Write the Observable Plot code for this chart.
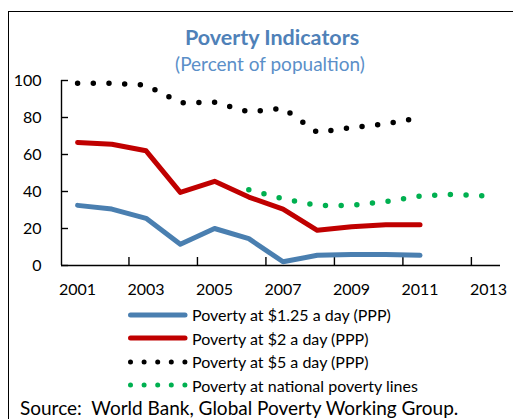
<!DOCTYPE html>
<html>
<head>
<meta charset="utf-8">
<script src="https://cdn.jsdelivr.net/npm/d3@7"></script>
<script src="https://cdn.jsdelivr.net/npm/@observablehq/plot@0.6"></script>
<style>
  html, body { margin: 0; padding: 0; background: #fff; overflow: hidden; }
  body { width: 513px; height: 419px; position: relative; font-family: Lato, "Open Sans", sans-serif; }
  #frame { position: absolute; left: 8px; top: 11px; width: 600px; height: 500px; border-left: 1.5px solid #000; border-top: 1.5px solid #000; }
  #title { position: absolute; left: 0; width: 544px; top: 25px; text-align: center; font-weight: bold; font-size: 21.5px; color: #4f81b8; line-height: 24px; }
  #subtitle { position: absolute; left: 0; width: 540px; top: 53px; text-align: center; font-size: 19px; color: #5b8fc8; line-height: 22px; }
  #chart { position: absolute; left: 0; top: 70px; }
  #legend { position: absolute; left: 128px; top: 303px; font-size: 16px; color: #000; }
  .row { height: 23.5px; display: flex; align-items: center; }
  .row svg { margin-right: 4px; }
  #source { position: absolute; left: 20px; top: 396px; font-size: 19px; color: #000; white-space: pre; }
</style>
</head>
<body>
<div id="frame"></div>
<div id="title">Poverty Indicators</div>
<div id="subtitle">(Percent of popualtion)</div>
<div id="chart"></div>
<div id="legend"></div>
<div id="source">Source:  World Bank, Global Poverty Working Group.</div>
<script>
// ---- data ----
const years = [2001, 2002, 2003, 2004, 2005, 2006, 2007, 2008, 2009, 2010, 2011];
const pov125 = [32.5, 30.5, 25.5, 11.5, 20, 14.5, 2, 5.5, 6, 6, 5.5];
const pov2 = [66.5, 65.5, 62, 39.5, 45.5, 37, 30.5, 19, 21, 22, 22];
const pov5 = [98.5, 98.5, 97.5, 88, 88.3, 83, 85, 72, 74.5, 76.5, 80];
const natYears = [2006, 2007, 2008, 2009, 2010, 2011, 2012, 2013];
const povNat = [41, 36, 32.5, 32.5, 34.5, 37.5, 38.5, 37.5];
const xTickLabels = [2001, 2003, 2005, 2007, 2009, 2011, 2013];
const xTickMarks = [2002.5, 2004.5, 2006.5, 2008.5, 2010.5, 2012.5];
const yTicks = [0, 20, 40, 60, 80, 100];
const xDomain = [2000.53, 2013.35];
const yDomain = [0, 100];
const seriesNames = [
  "Poverty at $1.25 a day (PPP)",
  "Poverty at $2 a day (PPP)",
  "Poverty at $5 a day (PPP)",
  "Poverty at national poverty lines"
];
const colors = ["#4a7fb0", "#c00000", "#000000", "#00b050"];

const toRows = (xs, vs) => xs.map((x, i) => ({x, v: vs[i]}));
const d125 = toRows(years, pov125);
const d2 = toRows(years, pov2);
const d5 = toRows(years, pov5);
const dNat = toRows(natYears, povNat);

const dots = "0 15.7";

const chart = Plot.plot({
  width: 513,
  height: 232,
  marginTop: 10,
  marginBottom: 37,
  marginLeft: 61,
  marginRight: 13,
  style: {fontFamily: "Lato, 'Open Sans', sans-serif", fontSize: "16px", color: "#000", background: "transparent"},
  x: {domain: xDomain},
  y: {domain: yDomain},
  marks: [
    Plot.ruleY([yDomain[0]], {stroke: "#000", strokeWidth: 1.4}),
    Plot.ruleX([xDomain[0]], {stroke: "#000", strokeWidth: 1.4}),
    // inward tick marks (shifted into the plot)
    Plot.axisY(yTicks, {tickSize: 7, dx: 7, strokeWidth: 1.4, tickFormat: () => "", label: null}),
    Plot.axisY(yTicks, {tickSize: 0, tickPadding: 20, fontSize: 16, tickFormat: d => d, label: null}),
    Plot.axisX(xTickLabels, {tickSize: 0, tickPadding: 18, fontSize: 16, tickFormat: d => String(d), label: null}),
    Plot.axisX(xTickMarks, {tickSize: 8, dy: -8, strokeWidth: 1.4, tickFormat: () => "", label: null}),
    Plot.line(dNat, {x: "x", y: "v", stroke: colors[3], strokeWidth: 5.5, strokeDasharray: dots, strokeLinecap: "round"}),
    Plot.line(d5, {x: "x", y: "v", stroke: colors[2], strokeWidth: 5.5, strokeDasharray: dots, strokeLinecap: "round"}),
    Plot.line(d2, {x: "x", y: "v", stroke: colors[1], strokeWidth: 5, strokeLinecap: "round", strokeLinejoin: "round"}),
    Plot.line(d125, {x: "x", y: "v", stroke: colors[0], strokeWidth: 5, strokeLinecap: "round", strokeLinejoin: "round"})
  ]
});
document.getElementById("chart").appendChild(chart);

// legend
const legend = document.getElementById("legend");
seriesNames.forEach((name, i) => {
  const row = document.createElement("div");
  row.className = "row";
  const dotted = i >= 2;
  const sw = dotted
    ? `<svg width="60" height="10"><line x1="2.5" y1="5" x2="57" y2="5" stroke="${colors[i]}" stroke-width="5" stroke-linecap="round" stroke-dasharray="0 13.6"/></svg>`
    : `<svg width="60" height="10"><line x1="2.5" y1="5" x2="57" y2="5" stroke="${colors[i]}" stroke-width="5" stroke-linecap="round"/></svg>`;
  row.innerHTML = sw + `<span>${name.replace(/\$/g, "&#36;")}</span>`;
  legend.appendChild(row);
});
</script>
</body>
</html>
